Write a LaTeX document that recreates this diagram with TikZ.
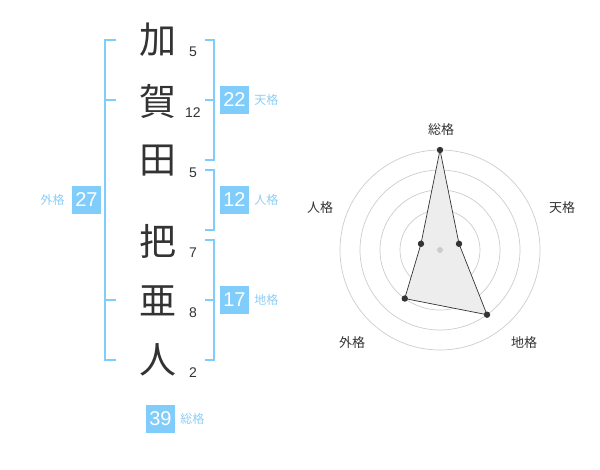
\documentclass[tikz,border=0pt]{standalone}
\usepackage{fontspec}
\setmainfont{Liberation Sans}
\newfontfamily\jpfont{Noto Sans CJK JP}
\usetikzlibrary{positioning}
\definecolor{kakublue}{RGB}{128,204,250}
\definecolor{kakutext}{RGB}{140,206,245}
\definecolor{ink}{RGB}{51,51,51}
\tikzset{
  bracket/.style={kakublue, line width=2pt},
  numbox/.style={fill=kakublue, text=white, minimum width=29pt, minimum height=28pt,
    inner sep=0pt, font=\fontsize{20}{20}\selectfont},
  kakulabel/.style={text=kakutext, inner sep=0pt, font=\jpfont\fontsize{12}{12}\selectfont},
  kanji/.style={text=ink, inner sep=0pt, font=\jpfont\fontsize{37}{37}\selectfont},
  strokes/.style={text=ink, inner sep=0pt, font=\fontsize{14}{14}\selectfont},
  ring/.style={black!20, line width=0.7pt},
  axislabel/.style={text=ink, inner sep=0pt, font=\jpfont\fontsize{13}{13}\selectfont}
}

\begin{document}
\begin{tikzpicture}[x=1pt, y=-1pt]
    \useasboundingbox (0,0) rectangle (600,470);
    % name, strokes
    \node[kanji] (k1) at (158,40) {加};
    \node[kanji] (k2) at (158,101) {賀};
    \node[kanji] (k3) at (158,161) {田};
    \node[kanji] (k4) at (158,241) {把};
    \node[kanji] (k5) at (158,301) {亜};
    \node[kanji] (k6) at (158,360) {人};
    \node[strokes] (s1) at (193,52) {5};
    \node[strokes] (s2) at (193,113) {12};
    \node[strokes] (s3) at (193,173) {5};
    \node[strokes] (s4) at (193,253) {7};
    \node[strokes] (s5) at (193,313) {8};
    \node[strokes] (s6) at (193,373) {2};
    % brackets
    \draw[bracket] (116,40) -- (105,40) -- (105,360) -- (116,360);
    \draw[bracket] (105,100) -- (116,100) (105,300) -- (116,300);
    \draw[bracket] (205,40) -- (214,40) -- (214,160) -- (205,160) (205,100) -- (214,100);
    \draw[bracket] (205,170) -- (214,170) -- (214,230) -- (205,230);
    \draw[bracket] (205,240) -- (214,240) -- (214,360) -- (205,360) (205,300) -- (214,300);
    % totals
    \node[numbox] (ten) at (234.5,100) {22};
    \node[numbox] (jin) at (234.5,200) {12};
    \node[numbox] (chi) at (234.5,300) {17};
    \node[numbox] (gai) at (86.5,200) {27};
    \node[numbox] (sou) at (160.5,419) {39};
    \node[kakulabel, right=5pt of ten] (tenl) {天格};
    \node[kakulabel, right=5pt of jin] (jinl) {人格};
    \node[kakulabel, right=5pt of chi] (chil) {地格};
    \node[kakulabel, left=7pt of gai] (gail) {外格};
    \node[kakulabel, right=5pt of sou] (soul) {総格};
    % radar
    \coordinate (c) at (440,250);
    \foreach \r in {20,40,60,80,100}
        \draw[ring] (c) circle[radius=\r pt];
    \path[shift={(c)}] (90:100pt) coordinate (p1) (18:20pt) coordinate (p2)
        (-54:80pt) coordinate (p3) (-126:60pt) coordinate (p4) (162:20pt) coordinate (p5);
    \draw[ink, fill=black!7, line width=0.7pt] (p1) -- (p2) -- (p3) -- (p4) -- (p5) -- cycle;
    \fill[black!20] (c) circle[radius=3pt];
    \foreach \p in {p1,p2,p3,p4,p5}
        \fill[ink] (\p) circle[radius=3.2pt];
    \node[axislabel] (a1) at (441,130) {総格};
    \node[axislabel] (a2) at (562,208) {天格};
    \node[axislabel] (a3) at (524,343) {地格};
    \node[axislabel] (a4) at (352,343) {外格};
    \node[axislabel] (a5) at (320,208) {人格};
\end{tikzpicture}
\end{document}
